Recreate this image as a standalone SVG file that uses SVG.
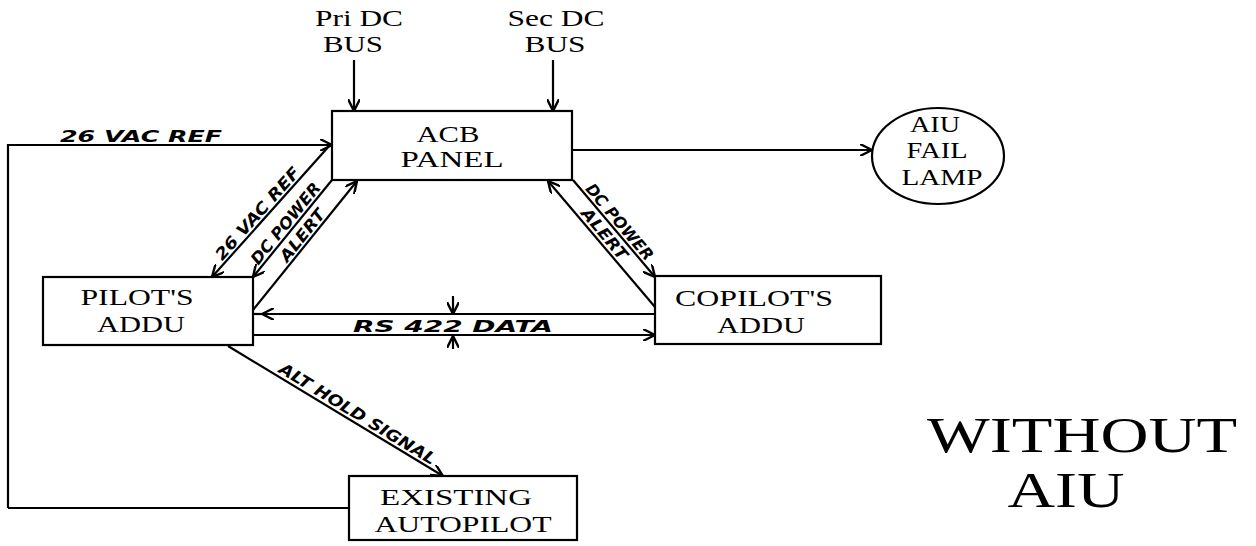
<svg xmlns="http://www.w3.org/2000/svg" width="1256" height="546" viewBox="0 0 1256 546">
<style>
.box{fill:#fff;stroke:#000;stroke-width:2.2}
.ln{fill:none;stroke:#000;stroke-width:2.2}
.t{font-family:"Liberation Serif","Times New Roman",serif;font-size:24px;fill:#000;text-anchor:middle}
.h{font-family:"DejaVu Sans","Liberation Sans",sans-serif;font-size:16px;font-weight:bold;font-style:italic;fill:#000;text-anchor:middle}
.big{font-family:"Liberation Serif","Times New Roman",serif;font-size:50px;fill:#000;text-anchor:middle}
</style>
<defs>
<marker id="arr" viewBox="0 0 10 10" refX="10" refY="5" markerWidth="12" markerHeight="12" markerUnits="userSpaceOnUse" orient="auto-start-reverse">
<path d="M0,0 L10,5 L0,10" fill="none" stroke="#000" stroke-width="2"/>
</marker>
</defs>

<g id="connectors">
<path class="ln" d="M354,60 L354,111" marker-end="url(#arr)"/>
<path class="ln" d="M553,60 L553,111" marker-end="url(#arr)"/>
<path class="ln" d="M8,508 L8,145 L332,145" marker-end="url(#arr)"/>
<path class="ln" d="M8,508 L349,508"/>
<path class="ln" d="M572,150 L872,150" marker-end="url(#arr)"/>
<path class="ln" d="M330,145 L212,277" marker-end="url(#arr)"/>
<path class="ln" d="M332,180 L253,277" marker-end="url(#arr)"/>
<path class="ln" d="M253,310 L357,181" marker-end="url(#arr)"/>
<path class="ln" d="M573,180 L655,277" marker-end="url(#arr)"/>
<path class="ln" d="M655,307 L548,181" marker-end="url(#arr)"/>
<path class="ln" d="M655,314 L262,314" marker-end="url(#arr)"/>
<path class="ln" d="M262,314 L253,314"/>
<path class="ln" d="M253,335 L655,335" marker-end="url(#arr)"/>
<path class="ln" d="M453,296 L453,314" marker-end="url(#arr)"/>
<path class="ln" d="M453,349 L453,336" marker-end="url(#arr)"/>
<path class="ln" d="M228,346 L443,476" marker-end="url(#arr)"/>
<text class="h" x="141" y="142" font-size="18" textLength="162" lengthAdjust="spacingAndGlyphs">26 VAC REF</text>
<text class="h" transform="translate(261.5,217.2) rotate(-48.2)" textLength="118" lengthAdjust="spacingAndGlyphs">26 VAC REF</text>
<text class="h" transform="translate(289.9,227) rotate(-50.8)" textLength="100" lengthAdjust="spacingAndGlyphs">DC POWER</text>
<text class="h" transform="translate(306.6,238.8) rotate(-51.1)" textLength="62" lengthAdjust="spacingAndGlyphs">ALERT</text>
<text class="h" transform="translate(615.3,225.5) rotate(49.8)" textLength="95" lengthAdjust="spacingAndGlyphs">DC POWER</text>
<text class="h" transform="translate(600.3,237.5) rotate(49.9)" textLength="62" lengthAdjust="spacingAndGlyphs">ALERT</text>
<text class="h" x="453" y="332" font-size="17" textLength="200" lengthAdjust="spacingAndGlyphs">RS 422 DATA</text>
<text class="h" transform="translate(354.7,418.6) rotate(31.3)" textLength="180" lengthAdjust="spacingAndGlyphs">ALT HOLD SIGNAL</text>
</g>

<g id="pri-dc-bus">
<text class="t" x="359" y="26" textLength="88" lengthAdjust="spacingAndGlyphs">Pri DC</text>
<text class="t" x="353" y="52" textLength="60" lengthAdjust="spacingAndGlyphs">BUS</text>
</g>
<g id="sec-dc-bus">
<text class="t" x="556" y="26" textLength="97" lengthAdjust="spacingAndGlyphs">Sec DC</text>
<text class="t" x="555" y="52" textLength="61" lengthAdjust="spacingAndGlyphs">BUS</text>
</g>
<g id="acb-panel">
<rect class="box" x="332" y="111" width="240" height="69"/>
<text class="t" x="448" y="142" textLength="63" lengthAdjust="spacingAndGlyphs">ACB</text>
<text class="t" x="452" y="167" textLength="103" lengthAdjust="spacingAndGlyphs">PANEL</text>
</g>
<g id="aiu-fail-lamp">
<ellipse class="box" cx="938" cy="156" rx="66" ry="48"/>
<text class="t" x="935" y="132" textLength="50" lengthAdjust="spacingAndGlyphs">AIU</text>
<text class="t" x="937" y="158" textLength="61" lengthAdjust="spacingAndGlyphs">FAIL</text>
<text class="t" x="942" y="185" textLength="81" lengthAdjust="spacingAndGlyphs">LAMP</text>
</g>
<g id="pilots-addu">
<rect class="box" x="43" y="277" width="210" height="68"/>
<text class="t" x="137" y="305" font-size="25" textLength="113" lengthAdjust="spacingAndGlyphs">PILOT'S</text>
<text class="t" x="141" y="332" font-size="25" textLength="88" lengthAdjust="spacingAndGlyphs">ADDU</text>
</g>
<g id="copilots-addu">
<rect class="box" x="655" y="276" width="226" height="68"/>
<text class="t" x="754" y="306" font-size="25" textLength="158" lengthAdjust="spacingAndGlyphs">COPILOT'S</text>
<text class="t" x="761" y="333" font-size="25" textLength="88" lengthAdjust="spacingAndGlyphs">ADDU</text>
</g>
<g id="existing-autopilot">
<rect class="box" x="349" y="476" width="228" height="64"/>
<text class="t" x="456" y="505" font-size="25" textLength="152" lengthAdjust="spacingAndGlyphs">EXISTING</text>
<text class="t" x="463" y="532" font-size="25" textLength="177" lengthAdjust="spacingAndGlyphs">AUTOPILOT</text>
</g>
<g id="title">
<text class="big" x="1082" y="452" textLength="310" lengthAdjust="spacingAndGlyphs">WITHOUT</text>
<text class="big" x="1066" y="507" textLength="117" lengthAdjust="spacingAndGlyphs">AIU</text>
</g>
</svg>
